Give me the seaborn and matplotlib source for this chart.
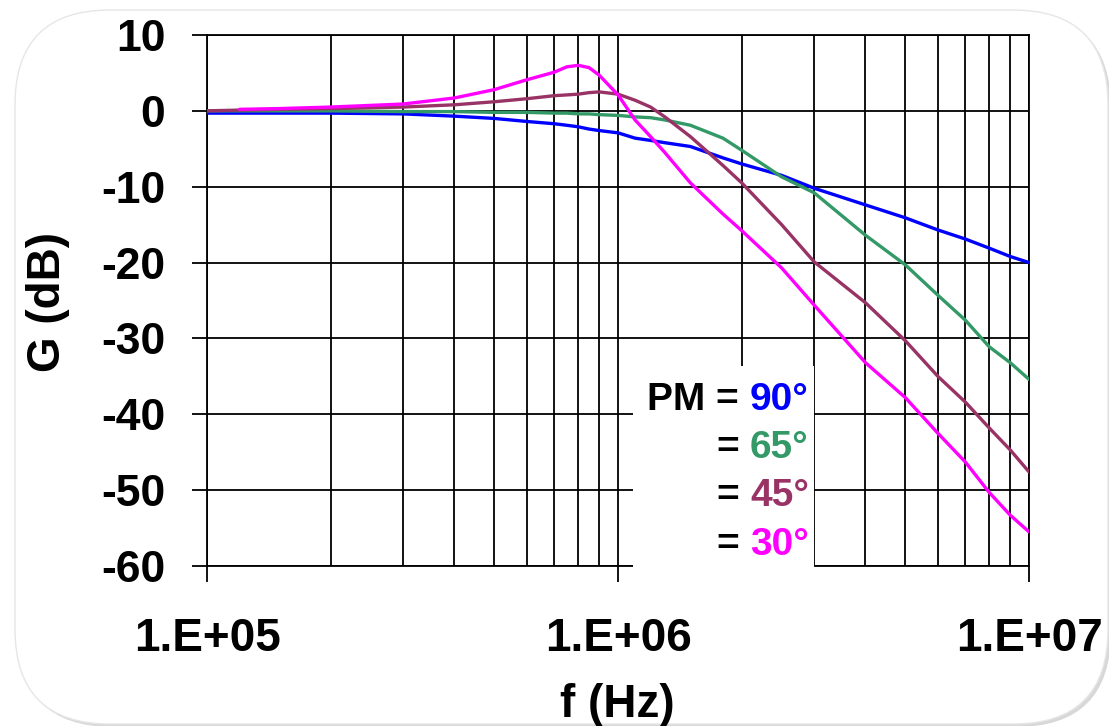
import numpy as np
import pandas as pd
import seaborn as sns
import matplotlib.pyplot as plt
from matplotlib.patches import FancyBboxPatch, Rectangle
from matplotlib.ticker import FixedLocator, LogLocator, NullFormatter

# Frequenssit (Hz) ja vahvistus (dB) eri vaihemarginaaleilla
freq = [1e5, 1.2e5, 1.5e5, 2e5, 3e5, 4e5, 5e5, 6e5, 7e5, 7.5e5, 8e5, 8.5e5, 9e5,
        1e6, 1.1e6, 1.2e6, 1.3e6, 1.5e6, 1.8e6, 2e6, 2.5e6, 3e6, 4e6, 5e6, 6e6,
        7e6, 8e6, 9e6, 1e7]
gain_pm90 = [-0.3, -0.3, -0.3, -0.3, -0.4, -0.7, -1.0, -1.4, -1.7, -1.9, -2.1, -2.4, -2.6,
             -2.9, -3.6, -3.9, -4.2, -4.7, -6.2, -7.0, -8.5, -10.2, -12.4, -14.1, -15.7,
             -16.9, -18.1, -19.2, -20.0]
gain_pm65 = [0.0, 0.0, 0.0, 0.0, -0.1, -0.1, -0.2, -0.2, -0.3, -0.3, -0.4, -0.4, -0.5,
             -0.6, -0.8, -0.9, -1.2, -1.9, -3.6, -5.2, -8.7, -10.8, -16.4, -20.3, -24.3,
             -27.6, -31.1, -33.2, -35.4]
gain_pm45 = [0.0, 0.1, 0.2, 0.3, 0.5, 0.8, 1.2, 1.6, 2.0, 2.1, 2.2, 2.4, 2.5,
             2.2, 1.4, 0.5, -0.8, -3.4, -7.2, -9.5, -15.0, -19.9, -25.3, -30.3, -35.0,
             -38.4, -41.8, -44.7, -47.6]
# 30 asteen käyrä alkaa vasta 120 kHz:stä
freq_pm30 = freq[1:]
gain_pm30 = [0.2, 0.3, 0.5, 0.9, 1.7, 2.8, 4.1, 5.1, 5.8, 6.0, 5.7, 4.7,
             2.1, -1.2, -3.4, -5.5, -9.5, -13.6, -15.8, -20.7, -25.6, -33.2, -37.8, -42.5,
             -46.3, -50.3, -53.3, -55.5]

pm_labels = ["90°", "65°", "45°", "30°"]
colors = ["#0000FF", "#339966", "#993366", "#FF00FF"]

x_ticks = [1e5, 1e6, 1e7]
x_ticklabels = ["1.E+05", "1.E+06", "1.E+07"]
y_ticks = [-60, -50, -40, -30, -20, -10, 0, 10]

# Pitkä taulukko seabornia varten
data = pd.concat([
    pd.DataFrame({"f": freq, "G": gain_pm90, "PM": pm_labels[0]}),
    pd.DataFrame({"f": freq, "G": gain_pm65, "PM": pm_labels[1]}),
    pd.DataFrame({"f": freq, "G": gain_pm45, "PM": pm_labels[2]}),
    pd.DataFrame({"f": freq_pm30, "G": gain_pm30, "PM": pm_labels[3]}),
], ignore_index=True)

sns.set_theme(style="ticks")
plt.rcParams["font.family"] = ["Liberation Sans", "DejaVu Sans"]
plt.rcParams["font.weight"] = "bold"
plt.rcParams["axes.unicode_minus"] = False
for key in ["text.color", "axes.labelcolor", "xtick.color", "ytick.color"]:
    plt.rcParams[key] = "black"

fig = plt.figure(figsize=(11.09, 7.26), dpi=100)
fig.patch.set_facecolor("white")

# Pyöristetty tausta varjolla
shadow = FancyBboxPatch((0.18, -0.01), 10.93, 7.14, boxstyle="round,pad=0,rounding_size=0.95",
                        transform=fig.dpi_scale_trans, facecolor="#d8d8d8", edgecolor="none", zorder=-2)
panel = FancyBboxPatch((0.15, 0.02), 10.93, 7.14, boxstyle="round,pad=0,rounding_size=0.95",
                       transform=fig.dpi_scale_trans, facecolor="white", edgecolor="#e6e6e6",
                       linewidth=1.0, zorder=-1)
fig.patches.extend([shadow, panel])

ax = fig.add_axes([0.1867, 0.2204, 0.7412, 0.7314])
ax.set_facecolor("none")

sns.lineplot(data=data, x="f", y="G", hue="PM", palette=colors, hue_order=pm_labels,
             linewidth=2.4, legend=False, ax=ax, zorder=4)

ax.set_xscale("log")
ax.set_xlim(1e5, 1e7)
ax.set_ylim(-60, 10)
ax.xaxis.set_major_locator(FixedLocator(x_ticks))
ax.set_xticklabels(x_ticklabels)
ax.xaxis.set_minor_locator(LogLocator(base=10, subs=np.arange(2, 10)))
ax.xaxis.set_minor_formatter(NullFormatter())
ax.set_yticks(y_ticks)

ax.grid(True, which="major", axis="both", color="black", linewidth=1.3)
ax.grid(True, which="minor", axis="x", color="black", linewidth=1.3)
for s in ax.spines.values():
    s.set_color("black")
    s.set_linewidth(1.3)

ax.tick_params(axis="y", which="major", left=True, direction="out", length=11, width=1.3,
               color="black", labelcolor="black", pad=19, labelsize=32)
ax.tick_params(axis="x", which="major", bottom=True, direction="out", length=11.5, width=1.3,
               color="black", labelcolor="black", pad=25, labelsize=33)
ax.tick_params(axis="x", which="minor", length=0)
for lab in ax.get_xticklabels() + ax.get_yticklabels():
    lab.set_fontweight("bold")

ax.set_xlabel("f (Hz)", fontsize=33, fontweight="bold", color="black")
ax.xaxis.label.set_va("baseline")
ax.xaxis.set_label_coords(0.4988, -0.2844)
ax.set_ylabel("G (dB)", fontsize=33, fontweight="bold", color="black")
ax.yaxis.label.set_va("center")
ax.yaxis.set_label_coords(-0.1934, 0.497)

# Selitelaatikko tekstinä valkoisella pohjalla
ax.add_patch(Rectangle((0.518, -0.045), 0.220, 0.4216, transform=ax.transAxes,
                       facecolor="white", edgecolor="none", clip_on=False, zorder=3))
baselines = [0.2938, 0.2034, 0.113, 0.0208]
prefixes = ["PM =", "=", "=", "="]
for prefix, lab, col, yb in zip(prefixes, pm_labels, colors, baselines):
    ax.text(0.647, yb, prefix, transform=ax.transAxes, ha="right", va="baseline",
            fontsize=28, fontweight="bold", color="black", zorder=5)
    ax.text(0.6606, yb, lab, transform=ax.transAxes, ha="left", va="baseline",
            fontsize=28, fontweight="bold", color=col, zorder=5)

fig.savefig("out.png", dpi=100)
